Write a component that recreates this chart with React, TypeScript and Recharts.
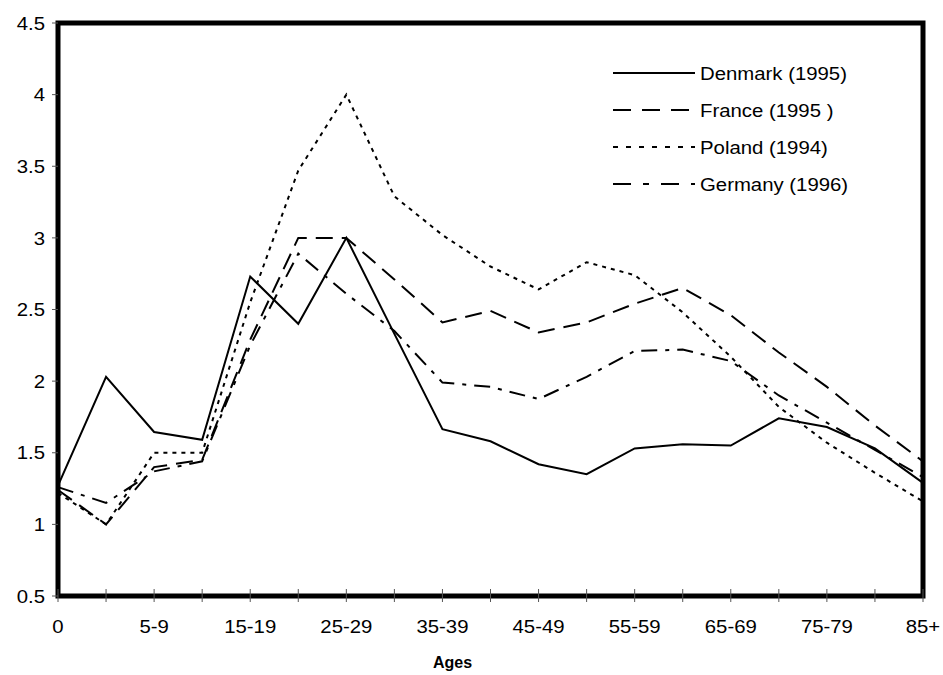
import { LineChart, Line, XAxis, YAxis, ReferenceArea, Legend, Label } from "recharts"

let ages = ["0", "1-4", "5-9", "10-14", "15-19", "20-24", "25-29", "30-34", "35-39", "40-44", "45-49", "50-54", "55-59", "60-64", "65-69", "70-74", "75-79", "80-84", "85+"]
let denmark = [1.27, 2.03, 1.645, 1.59, 2.73, 2.4, 3.0, 2.33, 1.665, 1.58, 1.42, 1.35, 1.53, 1.56, 1.55, 1.74, 1.68, 1.53, 1.29]
let france = [1.24, 1.0, 1.4, 1.45, 2.29, 3.0, 3.0, 2.71, 2.41, 2.49, 2.34, 2.41, 2.54, 2.65, 2.46, 2.2, 1.96, 1.69, 1.44]
let poland = [1.22, 1.0, 1.5, 1.5, 2.55, 3.47, 4.0, 3.29, 3.02, 2.8, 2.64, 2.83, 2.74, 2.48, 2.17, 1.82, 1.57, 1.36, 1.16]
let germany = [1.26, 1.15, 1.37, 1.44, 2.25, 2.89, 2.61, 2.35, 1.99, 1.96, 1.875, 2.03, 2.21, 2.22, 2.14, 1.9, 1.71, 1.52, 1.33]
let yTicks = [0.5, 1, 1.5, 2, 2.5, 3, 3.5, 4, 4.5]

let font = "'Liberation Sans', Arial, sans-serif"
let stretch = 1.1 // the original text is a bit wider than Arial

// legend order and dash styles
let series = [
  { key: "denmark", name: "Denmark (1995)", dash: undefined, legendDash: undefined },
  { key: "france", name: "France (1995 )", dash: "17 9", legendDash: "18 11" },
  { key: "poland", name: "Poland (1994)", dash: "4 5", legendDash: "5 8" },
  { key: "germany", name: "Germany (1996)", dash: "16 8 4 8", legendDash: "18 12 6 12" },
]

let data = ages.map((age, i) => ({
  age,
  denmark: denmark[i],
  france: france[i],
  poland: poland[i],
  germany: germany[i],
}))

let X_TICK_SIZE = 6
let X_TICK_MARGIN = 18

let XTick = ({ x, y, payload, index }: any) => {
  let axisY = y - X_TICK_SIZE - X_TICK_MARGIN
  return (
    <g>
      <line x1={x} x2={x} y1={axisY - 7} y2={axisY} stroke="#555" strokeWidth={1} />
      {index % 2 === 0 && (
        <text
          transform={`translate(${x},${y}) scale(${stretch},1)`}
          textAnchor="middle"
          dy="0.71em"
          fontSize={18.5}
          fontFamily={font}
          fill="#000"
        >
          {payload.value}
        </text>
      )}
    </g>
  )
}

let YTick = ({ x, y, payload }: any) => (
  <text
    transform={`translate(${x},${y}) scale(${stretch},1)`}
    textAnchor="end"
    dy="0.36em"
    fontSize={18.5}
    fontFamily={font}
    fill="#000"
  >
    {String(payload.value)}
  </text>
)

let LegendBox = () => (
  <svg width={300} height={150} style={{ display: "block" }}>
    {series.map((s, i) => {
      let y = 18 + i * 37
      return (
        <g key={s.key}>
          <line x1={8} x2={90} y1={y} y2={y} stroke="#000" strokeWidth={2} strokeDasharray={s.legendDash} />
          <text
            transform={`translate(95,${y}) scale(${stretch},1)`}
            dy="0.36em"
            fontSize={18.5}
            fontFamily={font}
            fill="#000"
          >
            {s.name}
          </text>
        </g>
      )
    })}
  </svg>
)

let AgesLabel = ({ viewBox }: any) => (
  <text
    x={viewBox.x + viewBox.width / 2 - 38}
    y={668}
    textAnchor="middle"
    fontSize={16}
    fontWeight="bold"
    fontFamily={font}
    fill="#000"
  >
    Ages
  </text>
)

export default function App() {
  return (
    <div style={{ position: "absolute", left: 0, top: 0, width: 943, height: 675 }}>
      <LineChart width={943} height={675} data={data} margin={{ top: 23, right: 20, bottom: 19, left: 16 }}>
        <XAxis
          dataKey="age"
          interval={0}
          height={60}
          axisLine={false}
          tickLine={{ stroke: "#555", strokeWidth: 1 }}
          tickSize={X_TICK_SIZE}
          tickMargin={X_TICK_MARGIN}
          tick={<XTick />}
        >
          <Label content={<AgesLabel />} />
        </XAxis>
        <YAxis
          domain={[0.5, 4.5]}
          ticks={yTicks}
          width={42}
          axisLine={false}
          tickLine={{ stroke: "#555", strokeWidth: 1 }}
          tickSize={6}
          tickMargin={7}
          tick={<YTick />}
          allowDataOverflow
        />
        {series.map((s) => (
          <Line
            key={s.key}
            type="linear"
            dataKey={s.key}
            name={s.name}
            stroke="#000"
            strokeWidth={2}
            strokeDasharray={s.dash}
            dot={false}
            activeDot={false}
            isAnimationActive={false}
          />
        ))}
        <ReferenceArea x1="0" x2="85+" y1={0.5} y2={4.5} fill="none" stroke="#000" strokeWidth={5} ifOverflow="visible" />
        <Legend
          layout="horizontal"
          verticalAlign="middle"
          align="center"
          content={<LegendBox />}
          wrapperStyle={{ position: "absolute", left: 605, top: 55, width: 300, height: 150 }}
        />
      </LineChart>
    </div>
  )
}
